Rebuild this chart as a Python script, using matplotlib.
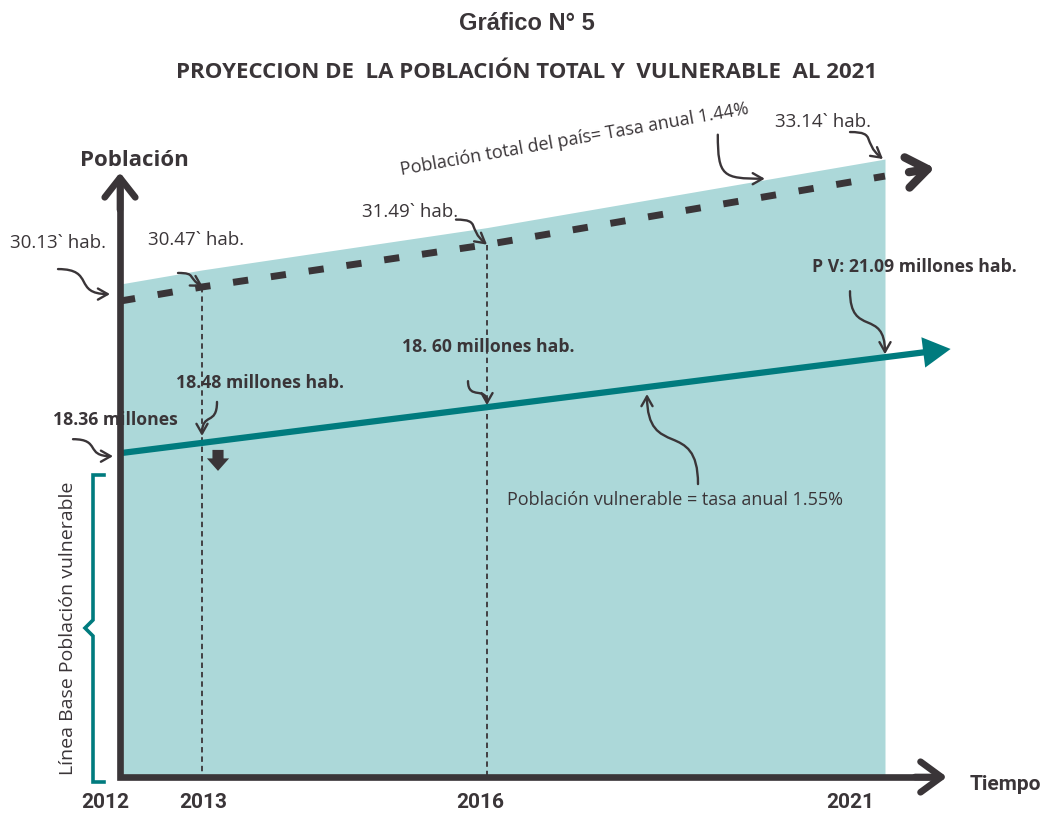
import numpy as np
import matplotlib
matplotlib.use("Agg")
import matplotlib.pyplot as plt
from matplotlib.lines import Line2D
from matplotlib.patches import FancyArrowPatch
from matplotlib.path import Path
from matplotlib.transforms import offset_copy, IdentityTransform

# values
years = [2012, 2013, 2016, 2021]
total = [30.13, 30.47, 31.49, 33.14]
vulnerable = [18.36, 18.48, 18.60, 21.09]
total_labels = ["30.13` hab.", "30.47` hab.", "31.49` hab.", "33.14` hab."]
vuln_labels = ["18.36 millones", "18.48 millones hab.", "18. 60 millones hab.",
               "P V: 21.09 millones hab."]
total_note = "Población total del país= Tasa anual 1.44%"
vuln_note = "Población vulnerable = tasa anual 1.55%"
title = "Gráfico N° 5"
subtitle = "PROYECCION DE  LA POBLACIÓN TOTAL Y  VULNERABLE  AL 2021"

W, H = 1046, 814
dark = "#3a3538"
teal = "#007b7e"
fillc = "#acd8d9"
reg = "Open Sans"

# the time axis of the drawing is schematic, not linear in years
yr_anchor = [2010, 2012, 2013, 2016, 2021, 2024]
px_anchor = [-44, 120, 202, 487, 885, 1125]


def fwd(x):
    return np.interp(x, yr_anchor, px_anchor)


def inv(p):
    return np.interp(p, px_anchor, yr_anchor)


def along(x, vals):
    # point on the straight line drawn between first and last value
    f = (fwd(x) - fwd(years[0])) / (fwd(years[-1]) - fwd(years[0]))
    return vals[0] + f * (vals[-1] - vals[0])


fig = plt.figure(figsize=(W / 100, H / 100), dpi=100)
ax = fig.add_axes([0, 37 / H, 1, 777 / H])
ax.set_xscale("function", functions=(fwd, inv))
ax.set_xlim(inv(0), inv(W))
ax.set_ylim(18.67, 37.38)
ax.axis("off")
ax2 = ax.twinx()
ax2.set_xscale("function", functions=(fwd, inv))
ax2.set_xlim(inv(0), inv(W))
ax2.set_ylim(9.15, 31.25)
ax2.axis("off")

pad = 0.41
ax.fill_between(years, ax.get_ylim()[0], np.add(total, pad), color=fillc, lw=0, zorder=1)

# total population, dashed
ax.plot(years, total, color=dark, lw=5, dashes=(2.2, 3.3), dash_capstyle="butt", zorder=3)
x_end_t = 2021.62
ax.annotate("", xy=(x_end_t, along(x_end_t, total)), xytext=(2021.3, along(2021.3, total)),
            arrowprops=dict(arrowstyle="->,head_length=0.75,head_width=0.55", lw=6,
                            color=dark, mutation_scale=20, shrinkA=0, shrinkB=0))

# dotted guides
for i in (1, 2):
    ax.plot([years[i], years[i]], [total[i], ax.get_ylim()[0]], color=dark, lw=1.3,
            dashes=(3, 2.2), zorder=2)

# vulnerable population, solid teal
x_end_v = 2021.72
ax2.plot([years[0], x_end_v], [vulnerable[0], along(x_end_v, vulnerable)], color=teal,
         lw=4.5, solid_capstyle="butt", zorder=3)
x_tip_v = 2021.82
ax2.annotate("", xy=(x_tip_v, along(x_tip_v, vulnerable)), xytext=(2021.5, along(2021.5, vulnerable)),
             arrowprops=dict(arrowstyle="-|>,head_length=0.9,head_width=0.5", lw=0,
                             color=teal, mutation_scale=22, shrinkA=0, shrinkB=0))

# axes with open arrow heads
xt = ax2.get_xaxis_transform()
y_top = 0.77
ax2.plot([years[0], years[0], inv(940)], [y_top, 0, 0], transform=xt, color=dark, lw=4.8,
         solid_joinstyle="miter", solid_capstyle="butt", clip_on=False, zorder=5)
ax2.annotate("", xy=(years[0], y_top + 0.008), xycoords=xt, xytext=(years[0], y_top - 0.04),
             arrowprops=dict(arrowstyle="->,head_length=0.7,head_width=0.55", lw=4.8,
                             color=dark, mutation_scale=20, shrinkA=0, shrinkB=0), zorder=5)
ax2.annotate("", xy=(inv(947), 0), xycoords=xt, xytext=(inv(915), 0),
             arrowprops=dict(arrowstyle="->,head_length=0.75,head_width=0.55", lw=4.8,
                             color=dark, mutation_scale=20, shrinkA=0, shrinkB=0), zorder=5)


def curl(axis, x, y, tail, tip, d0, d1, k=0.65):
    # S-shaped pointer drawn in pixels, ending at a data point
    p = axis.transData.transform((x, y)) + np.array(tip, float)
    t = p + np.array(tail, float) - np.array(tip, float)
    dist = np.hypot(*(p - t))
    d0 = np.array(d0, float) / np.hypot(*d0)
    d1 = np.array(d1, float) / np.hypot(*d1)
    verts = [t, t + d0 * k * dist, p - d1 * k * dist, p]
    path = Path(verts, [Path.MOVETO, Path.CURVE4, Path.CURVE4, Path.CURVE4])
    fig.add_artist(FancyArrowPatch(path=path, transform=IdentityTransform(),
                                   arrowstyle="->,head_length=0.7,head_width=0.4",
                                   mutation_scale=10, lw=1.7, color=dark, zorder=6))


R, D, U = (1, 0), (0, -1), (0, 1)
curl(ax, years[0], total[0], (-62, 32), (-10, 7), R, R)
curl(ax, years[1], total[1], (-24, 14), (1, 0), R, (1, -0.6))
curl(ax, years[2], total[2], (-31, 25), (0, 0), R, (1, -0.8))
x_note_t = 2019.49
curl(ax, x_note_t, along(x_note_t, total) + pad, (-47, 44), (0, 0), D, R)
curl(ax, years[3], total[3] + pad, (-35, 27), (-2, 0), R, (1, -0.8))
curl(ax2, years[3], vulnerable[3], (-35, 66), (0, 3), D, D)
curl(ax2, years[2], along(years[2], vulnerable), (-19, 26), (0, 2), D, D)
curl(ax2, years[1], along(years[1], vulnerable), (15, 41), (0, 7), D, D)
curl(ax2, years[0], vulnerable[0], (-47, 14), (-7, -3), R, R)
x_note_v = 2018.01
curl(ax2, x_note_v, along(x_note_v, vulnerable), (51, -97), (0, -7), U, U)

# small block arrow under the 2013 point
tip_tr = offset_copy(ax2.transData, fig=fig, x=16, y=-28, units="dots")
ax2.annotate("", xy=(years[1], along(years[1], vulnerable)), xycoords=tip_tr,
             xytext=(0, 21), textcoords="offset pixels",
             arrowprops=dict(arrowstyle="simple,head_length=0.45,head_width=0.8,tail_width=0.4",
                             color=dark, lw=0, mutation_scale=20, shrinkA=0, shrinkB=0))


def ftext(x, y, s, **kw):
    kw.setdefault("ha", "center")
    kw.setdefault("va", "center")
    fig.text(x / W, 1 - y / H, s, **kw)


ftext(527, 24, title, family="Liberation Sans", weight="bold", size=17, color=dark)
ftext(527, 72, subtitle, family="Open Sans", weight="bold", size=16, color=dark)
ftext(134, 161, "Población", family=reg, weight="bold", size=16, color=dark)

ftext(58, 243, total_labels[0], family=reg, size=13.5, color=dark)
ftext(196, 240, total_labels[1], family=reg, size=13.5, color=dark)
ftext(410, 212, total_labels[2], family=reg, size=13.5, color=dark)
ftext(823, 122, total_labels[3], family=reg, size=13.5, color=dark)
ftext(575, 139, total_note, family=reg, size=13, color=dark, rotation=10,
      rotation_mode="anchor")

ftext(115, 420, vuln_labels[0], family=reg, weight="bold", size=12.7, color=dark)
ftext(260, 383, vuln_labels[1], family=reg, weight="bold", size=12.7, color=dark)
ftext(488, 347, vuln_labels[2], family=reg, weight="bold", size=12.7, color=dark)
ftext(914, 267, vuln_labels[3], family=reg, weight="bold", size=12.7, color=dark)
ftext(675, 500, vuln_note, family=reg, size=13, color=dark)

ftext(68, 628, "Línea Base Población vulnerable", family=reg, size=14, color=dark,
      rotation=90)

# teal brace along the base line
bx = np.array([104, 93, 93, 85, 93, 93, 104])
by = np.array([475, 475, 620, 628, 636, 782, 782])
fig.add_artist(Line2D(bx / W, 1 - by / H, transform=fig.transFigure, color=teal, lw=2.6,
                      solid_joinstyle="miter"))

for yr, xc in zip(years, [105, 203, 480, 850]):
    ftext(xc, 803, str(yr), family="Roboto", weight="bold", size=15, color=dark)
ftext(1005, 785, "Tiempo", family="Roboto", weight="bold", size=15, color=dark)

fig.savefig("out.png", dpi=100)
